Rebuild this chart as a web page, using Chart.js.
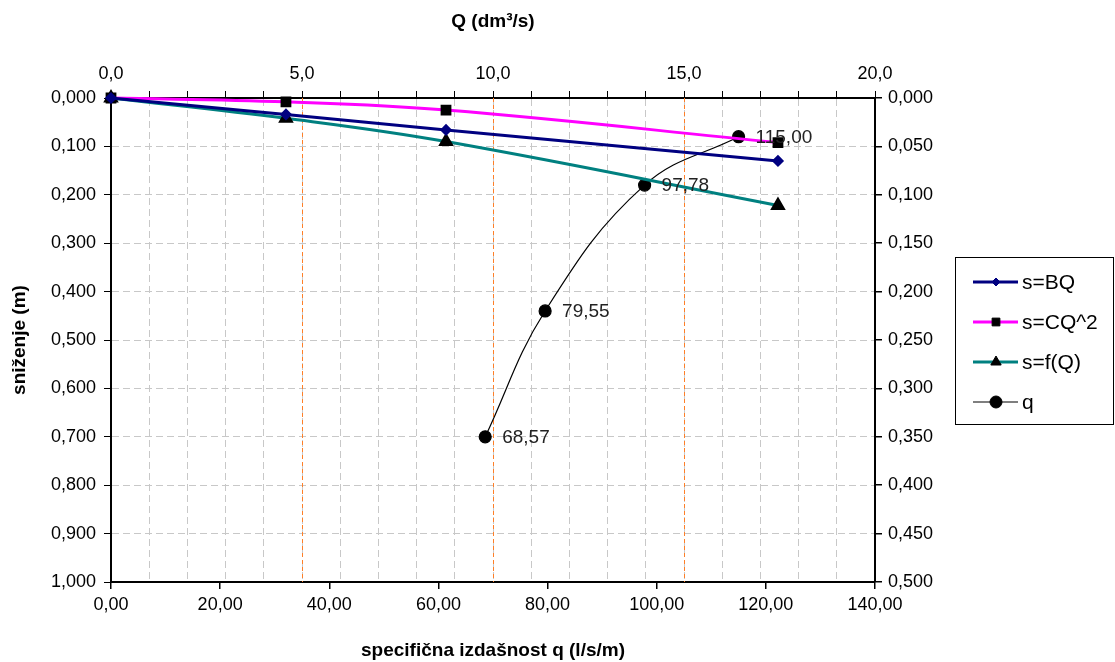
<!DOCTYPE html>
<html>
<head>
<meta charset="utf-8">
<script src="https://cdn.jsdelivr.net/npm/chart.js@4"></script>
<style>
  html, body { margin: 0; padding: 0; background: #fff; }
  #wrap { width: 1115px; height: 662px; }
</style>
</head>
<body>
<div id="wrap"><canvas id="myChart" width="1115" height="662"></canvas></div>
<script>
// protok Q (dm3/s) i sniženja s (m)
const protokQ = [0, 4.58, 8.77, 17.46];
const snizenjeBQ = [0, 0.034, 0.066, 0.130];
const snizenjeCQ2 = [0, 0.008, 0.025, 0.092];
const snizenjeFQ = [0, 0.042, 0.090, 0.222];

// specificna izdasnost q (l/s/m)
const specIzdasnost = [68.57, 79.55, 97.78, 115.00];
const snizenjeQ = [0.700, 0.440, 0.180, 0.080];

const legendLabels = ['s=BQ', 's=CQ^2', 's=f(Q)', 'q'];

// narancaste linije na Q
const orangeQ = [5, 10, 15];

const FONT = "'Liberation Sans', Arial, sans-serif";

function zarez(v, dec) {
  return v.toFixed(dec).replace('.', ',');
}

function toPoints(xs, ys) {
  return xs.map((x, i) => ({x: x, y: ys[i]}));
}

const orangeLinesPlugin = {
  id: 'orangeLines',
  beforeDatasetsDraw(chart) {
    let ctx = chart.ctx;
    let area = chart.chartArea;
    let sx = chart.scales.x2;
    ctx.save();
    ctx.strokeStyle = '#ff7f27';
    ctx.lineWidth = 1;
    ctx.setLineDash([4, 3]);
    orangeQ.forEach((q) => {
      let px = Math.round(sx.getPixelForValue(q)) + 0.5;
      ctx.beginPath();
      ctx.moveTo(px, area.top);
      ctx.lineTo(px, area.bottom);
      ctx.stroke();
    });
    ctx.restore();
  }
};

// oznake vrijednosti q pored tocaka
const qLabelsPlugin = {
  id: 'qLabels',
  afterDatasetsDraw(chart) {
    let ctx = chart.ctx;
    let meta = chart.getDatasetMeta(3);
    ctx.save();
    ctx.font = '19px ' + FONT;
    ctx.fillStyle = '#222';
    ctx.textBaseline = 'middle';
    ctx.textAlign = 'left';
    meta.data.forEach((pt, i) => {
      ctx.fillText(zarez(specIzdasnost[i], 2), pt.x + 17, pt.y + 1);
    });
    ctx.restore();
  }
};

// legenda s linijom i markerom
const boxLegendPlugin = {
  id: 'boxLegend',
  afterDraw(chart) {
    let ctx = chart.ctx;
    let left = 955, top = 257, w = 158, h = 167;
    ctx.save();
    ctx.strokeStyle = '#000';
    ctx.lineWidth = 1;
    ctx.strokeRect(left + 0.5, top + 0.5, w, h);
    ctx.font = '21px ' + FONT;
    ctx.textBaseline = 'middle';
    chart.data.datasets.forEach((ds, i) => {
      let y = top + 25 + i * 40;
      ctx.strokeStyle = ds.borderColor;
      ctx.lineWidth = ds.borderWidth;
      ctx.beginPath();
      ctx.moveTo(left + 18, y);
      ctx.lineTo(left + 63, y);
      ctx.stroke();
      ctx.fillStyle = ds.pointBackgroundColor;
      ctx.strokeStyle = ds.pointBorderColor;
      ctx.lineWidth = 1;
      Chart.helpers.drawPoint(ctx, {
        pointStyle: ds.pointStyle,
        radius: ds.pointRadius,
        borderWidth: 1
      }, left + 41, y);
      ctx.fillStyle = '#000';
      ctx.fillText(legendLabels[i], left + 67, y + 1);
    });
    ctx.restore();
  }
};

let ctx = document.getElementById('myChart');
let myChart = new Chart(ctx, {
  type: 'line',
  data: {
    datasets: [{
      label: legendLabels[0],
      data: toPoints(protokQ, snizenjeBQ),
      xAxisID: 'x2', yAxisID: 'y',
      borderColor: '#000080', backgroundColor: '#000080',
      borderWidth: 3, pointStyle: 'rectRot', pointRadius: 4,
      pointBorderColor: '#000080', pointBackgroundColor: '#000080',
      tension: 0.4, clip: false
    }, {
      label: legendLabels[1],
      data: toPoints(protokQ, snizenjeCQ2),
      xAxisID: 'x2', yAxisID: 'y',
      borderColor: '#ff00ff', backgroundColor: '#000',
      borderWidth: 3, pointStyle: 'rect', pointRadius: 5.5,
      pointBorderColor: '#000', pointBackgroundColor: '#000',
      tension: 0.4, clip: false
    }, {
      label: legendLabels[2],
      data: toPoints(protokQ, snizenjeFQ),
      xAxisID: 'x2', yAxisID: 'y',
      borderColor: '#008080', backgroundColor: '#000',
      borderWidth: 3, pointStyle: 'triangle', pointRadius: 6,
      pointBorderColor: '#000', pointBackgroundColor: '#000',
      tension: 0.4, clip: false
    }, {
      label: legendLabels[3],
      data: toPoints(specIzdasnost, snizenjeQ),
      xAxisID: 'x', yAxisID: 'y',
      borderColor: '#000', backgroundColor: '#000',
      borderWidth: 1.2, pointStyle: 'circle', pointRadius: 6,
      pointBorderColor: '#000', pointBackgroundColor: '#000',
      tension: 0.4, clip: false
    }]
  },
  options: {
    responsive: false,
    animation: false,
    layout: { padding: 0 },
    plugins: {
      legend: { display: false },
      tooltip: { enabled: false }
    },
    scales: {
      x: {
        type: 'linear', position: 'bottom',
        min: 0, max: 140,
        afterFit(scale) { scale.height = 80; },
        grid: { display: true, drawOnChartArea: false, drawTicks: true, tickLength: 7,
          color: 'rgba(0,0,0,0)', tickColor: '#000', lineWidth: 1.5 },
        border: { color: '#000', width: 2 },
        ticks: { stepSize: 20, padding: 5, color: '#000', font: { family: FONT, size: 18 },
          maxRotation: 0, callback: (v) => zarez(v, 2) },
        title: { display: true, text: 'specifična izdašnost q (l/s/m)', color: '#000',
          font: { family: FONT, size: 19, weight: 'bold' }, padding: { top: 12, bottom: 0 } }
      },
      x2: {
        type: 'linear', position: 'top',
        min: 0, max: 20,
        afterFit(scale) { scale.height = 98; },
        grid: {
          drawOnChartArea: true, tickLength: 7, lineWidth: 1, tickColor: '#000',
          color: '#c8c8c8'
        },
        border: { color: '#000', width: 2, dash: [7, 4] },
        ticks: { stepSize: 1, padding: 6, color: '#000', font: { family: FONT, size: 18 },
          maxRotation: 0, minRotation: 0, autoSkip: false,
          callback: (v) => (Math.round(v) % 5 === 0 ? zarez(v, 1) : '') },
        title: { display: true, text: 'Q (dm³/s)', color: '#000',
          font: { family: FONT, size: 19, weight: 'bold' }, padding: { top: 10, bottom: 14 } }
      },
      y: {
        type: 'linear', position: 'left', reverse: true,
        min: 0, max: 1,
        afterFit(scale) { scale.width = 111; },
        grid: { tickLength: 7, color: '#c8c8c8', tickColor: '#000', lineWidth: 1 },
        border: { color: '#000', width: 2, dash: [7, 4] },
        ticks: { stepSize: 0.1, padding: 8, color: '#000', font: { family: FONT, size: 18 },
          callback: (v) => zarez(v, 3) },
        title: { display: true, text: 'sniženje (m)', color: '#000',
          font: { family: FONT, size: 19, weight: 'bold' }, padding: { top: 8, bottom: 4 } }
      },
      y2: {
        type: 'linear', position: 'right', reverse: true,
        min: 0, max: 0.5,
        afterFit(scale) { scale.width = 240; },
        grid: { drawOnChartArea: false, tickLength: 7, color: 'rgba(0,0,0,0)', tickColor: '#000', lineWidth: 1.5 },
        border: { color: '#000', width: 2 },
        ticks: { stepSize: 0.05, padding: 6, color: '#000', font: { family: FONT, size: 18 },
          callback: (v) => zarez(v, 3) }
      }
    }
  },
  plugins: [orangeLinesPlugin, qLabelsPlugin, boxLegendPlugin]
});
</script>
</body>
</html>
